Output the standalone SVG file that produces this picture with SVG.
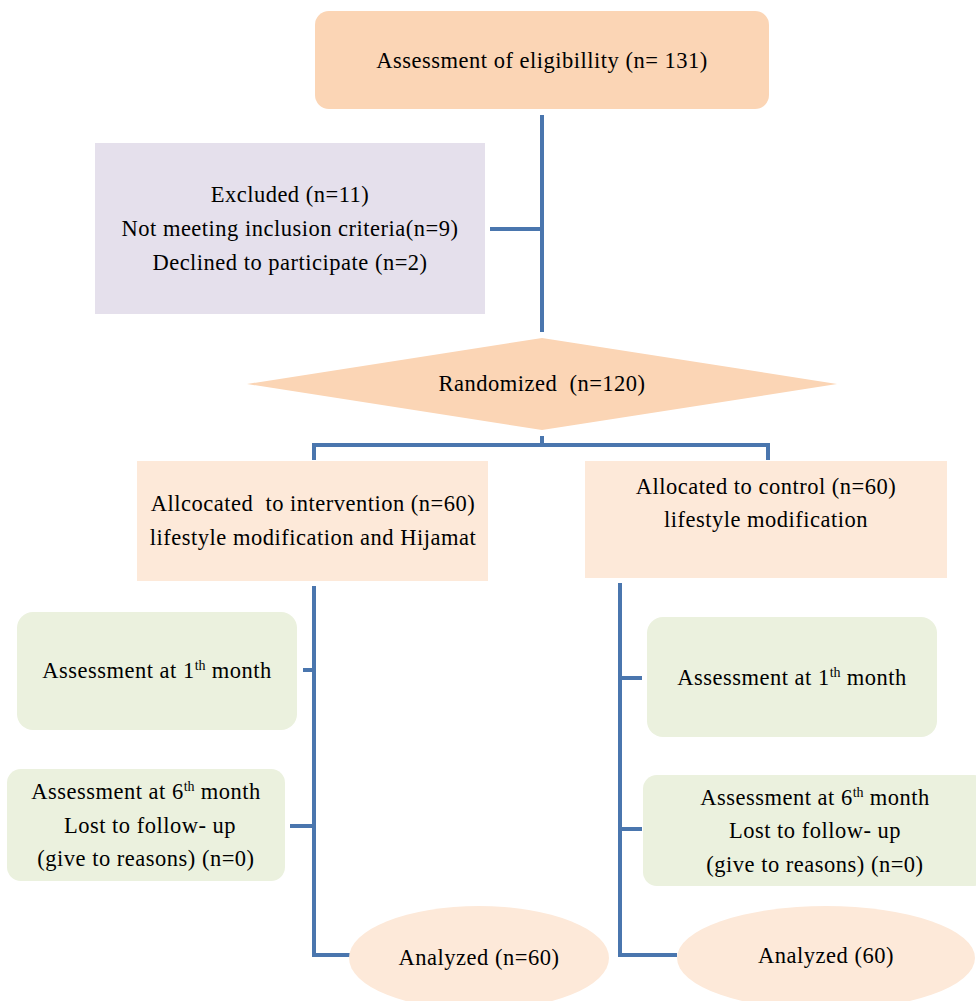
<svg xmlns="http://www.w3.org/2000/svg" width="976" height="1001" viewBox="0 0 976 1001">
<style>
text{font-family:"Liberation Serif","Times New Roman",serif;font-size:22.5px;letter-spacing:0.5px;fill:#000;text-anchor:middle}
.sup{font-size:14px;letter-spacing:0}
.ln{fill:none;stroke:#4A76AE;stroke-width:4}
.peach{fill:#FBD5B5}
.lpeach{fill:#FDE9D9}
.lav{fill:#E5E0EC}
.green{fill:#EBF1DE}
</style>
<rect width="976" height="1001" fill="#fff"/>
<g id="connectors">
<path class="ln" d="M542 115 V332"/>
<path class="ln" d="M490 229 H542"/>
<path class="ln" d="M542 436 V445 M314 460 V445 H768 V460"/>
<path class="ln" d="M314 586 V955 H350"/>
<path class="ln" d="M303 670 H314 M290 826 H314"/>
<path class="ln" d="M620 583 V955 H677"/>
<path class="ln" d="M620 678 H642 M620 829 H642"/>
</g>
<g id="eligibility">
<rect class="peach" x="315" y="11" width="454" height="98" rx="14"/>
<text x="542" y="68">Assessment of eligibillity (n= 131)</text>
</g>
<g id="excluded">
<rect class="lav" x="95" y="143" width="390" height="171"/>
<text x="290" y="202">Excluded (n=11)</text>
<text x="290" y="236">Not meeting inclusion criteria(n=9)</text>
<text x="290" y="270">Declined to participate (n=2)</text>
</g>
<g id="randomized">
<polygon class="peach" points="247,384 542,338 837,384 542,430"/>
<text x="542" y="391">Randomized&#160; (n=120)</text>
</g>
<g id="intervention">
<rect class="lpeach" x="137" y="461" width="351" height="120"/>
<text x="313" y="511">Allcocated&#160; to intervention (n=60)</text>
<text x="313" y="545">lifestyle modification and Hijamat</text>
</g>
<g id="control">
<rect class="lpeach" x="585" y="461" width="362" height="117"/>
<text x="766" y="494">Allocated to control (n=60)</text>
<text x="766" y="527">lifestyle modification</text>
</g>
<g id="left-1month">
<rect class="green" x="17" y="612" width="280" height="118" rx="16"/>
<text x="157" y="678">Assessment at 1<tspan class="sup" dy="-8">th</tspan><tspan dy="8"> month</tspan></text>
</g>
<g id="left-6month">
<rect class="green" x="7" y="769" width="278" height="112" rx="14"/>
<text x="146" y="799">Assessment at 6<tspan class="sup" dy="-8">th</tspan><tspan dy="8"> month</tspan></text>
<text x="150" y="833">Lost to follow- up</text>
<text x="146" y="866">(give to reasons) (n=0)</text>
</g>
<g id="right-1month">
<rect class="green" x="647" y="617" width="290" height="120" rx="16"/>
<text x="792" y="685">Assessment at 1<tspan class="sup" dy="-8">th</tspan><tspan dy="8"> month</tspan></text>
</g>
<g id="right-6month">
<rect class="green" x="643" y="775" width="345" height="111" rx="14"/>
<text x="815" y="805">Assessment at 6<tspan class="sup" dy="-8">th</tspan><tspan dy="8"> month</tspan></text>
<text x="815" y="838">Lost to follow- up</text>
<text x="815" y="872">(give to reasons) (n=0)</text>
</g>
<g id="left-analyzed">
<ellipse class="lpeach" cx="479" cy="958" rx="130" ry="52"/>
<text x="479" y="965">Analyzed (n=60)</text>
</g>
<g id="right-analyzed">
<ellipse class="lpeach" cx="826" cy="958" rx="149" ry="52"/>
<text x="826" y="963">Analyzed (60)</text>
</g>
</svg>
